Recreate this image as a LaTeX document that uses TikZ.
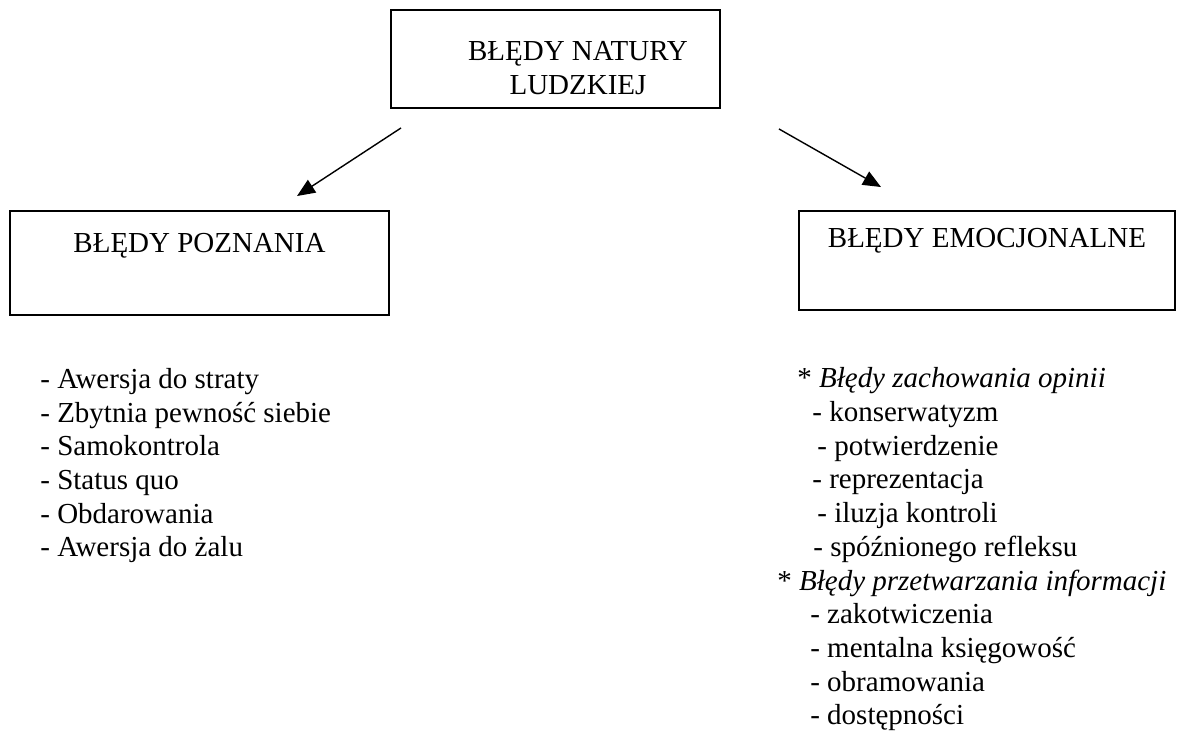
\documentclass[tikz,border=0pt]{standalone}
\usepackage{fontspec}
\setmainfont{Liberation Serif}
\usetikzlibrary{arrows.meta}
\tikzset{
  ramka/.style={draw=black,line width=1.1pt,inner sep=0pt,align=center,
    font=\fontsize{16.5}{19.9}\selectfont},
  lista/.style={inner sep=0pt,align=left,anchor=base west,
    font=\fontsize{16.5}{19.2}\selectfont},
  strzalka/.style={-{Triangle[length=0.36cm,width=0.3cm]},line width=0.8pt,black}
}
\begin{document}
\begin{tikzpicture}

\useasboundingbox (0,0) rectangle (23.54,14.66);

\node[ramka,minimum width=6.58cm,text height=1.70cm,text depth=0.26cm]
  (natura) at (11.11,13.48)
  {\hspace*{0.9cm}BŁĘDY NATURY\\\hspace*{0.9cm}LUDZKIEJ};

\node[ramka,anchor=base,minimum width=7.58cm,text height=0.84cm,
  text depth=1.24cm] (poznanie) at (3.99,9.60) {BŁĘDY POZNANIA};
\node[ramka,anchor=base,minimum width=7.52cm,text height=0.74cm,
  text depth=1.24cm] (emocje) at (19.74,9.70) {BŁĘDY EMOCJONALNE};

\draw[strzalka] ([shift={(0.22,-0.38)}]natura.south west)
  -- ([shift={(1.95,0.28)}]poznanie.north);
\draw[strzalka] ([shift={(1.16,-0.40)}]natura.south east)
  -- ([shift={(-2.12,0.46)}]emocje.north);

\node[lista] (listpoz) at (0.80,3.52) {%
  - Awersja do straty\\
  - Zbytnia pewność siebie\\
  - Samokontrola\\
  - Status quo\\
  - Obdarowania\\
  - Awersja do żalu};

\node[lista] (listemo) at (15.54,0.16) {%
  \hspace*{0.40cm}* \textit{Błędy zachowania opinii}\\
  \hspace*{0.70cm}- konserwatyzm\\
  \hspace*{0.80cm}- potwierdzenie\\
  \hspace*{0.70cm}- reprezentacja\\
  \hspace*{0.80cm}- iluzja kontroli\\
  \hspace*{0.72cm}- spóźnionego refleksu\\
  * \textit{Błędy przetwarzania informacji}\\
  \hspace*{0.66cm}- zakotwiczenia\\
  \hspace*{0.66cm}- mentalna księgowość\\
  \hspace*{0.66cm}- obramowania\\
  \hspace*{0.66cm}- dostępności};

\end{tikzpicture}
\end{document}
